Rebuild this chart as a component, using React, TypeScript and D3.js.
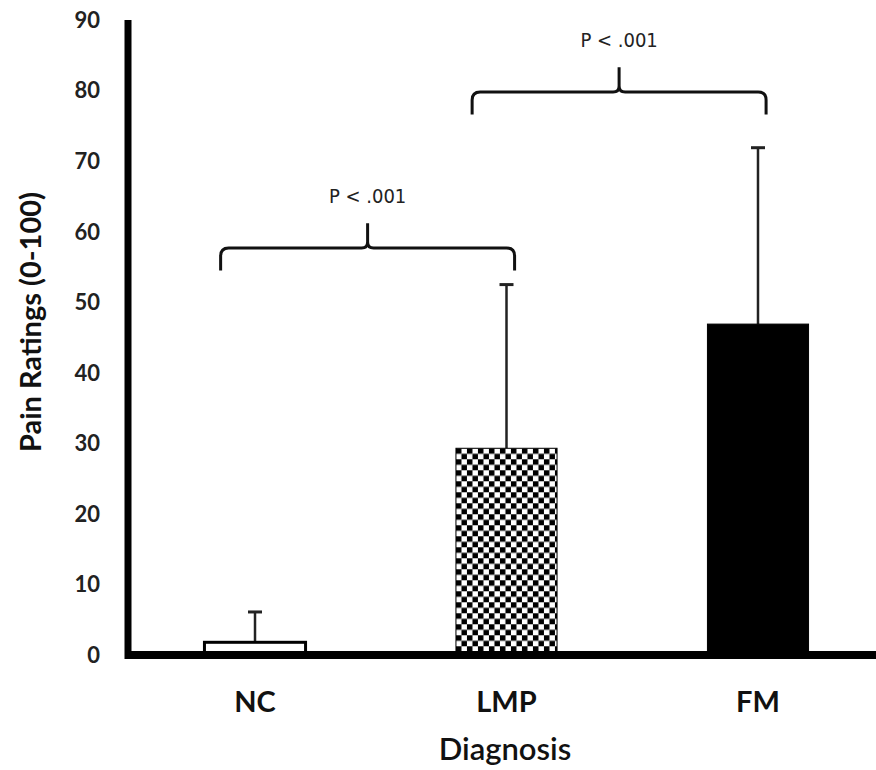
import React, { useEffect, useRef } from "react";
import * as d3 from "d3";

// data
const categories = ["NC", "LMP", "FM"];
const means = [1.8, 29.3, 46.9];
const upperErrors = [6.1, 52.5, 71.9];
const yTicks = [0, 10, 20, 30, 40, 50, 60, 70, 80, 90];
// significance brackets: [from category, to category, level, label]
const bracketFrom = ["NC", "LMP"];
const bracketTo = ["LMP", "FM"];
const bracketLevel = [57.7, 79.8];
const bracketLabel = ["P < .001", "P < .001"];

const App = () => {
  const ref = useRef<SVGSVGElement>(null);

  useEffect(() => {
    const width = 876;
    const height = 770;
    const svg = d3.select(ref.current);
    svg.selectAll("*").remove();

    const x = d3
      .scaleBand<string>()
      .domain(categories)
      .range([128, 885])
      .paddingInner(0.598)
      .paddingOuter(0.304);
    const y = d3.scaleLinear().domain([0, 90]).range([655, 20]);
    const bw = x.bandwidth();

    // checkerboard fill for LMP
    const defs = svg.append("defs");
    const cell = 5.5;
    const pat = defs
      .append("pattern")
      .attr("id", "checker")
      .attr("patternUnits", "userSpaceOnUse")
      .attr("x", x("LMP")!)
      .attr("y", y(means[1]))
      .attr("width", cell * 2)
      .attr("height", cell * 2);
    pat.append("rect").attr("width", cell * 2).attr("height", cell * 2).attr("fill", "#fff");
    pat.append("rect").attr("width", cell).attr("height", cell).attr("fill", "#000");
    pat
      .append("rect")
      .attr("x", cell)
      .attr("y", cell)
      .attr("width", cell)
      .attr("height", cell)
      .attr("fill", "#000");

    const fills = ["#fff", "url(#checker)", "#000"];

    // error bars (upper only)
    const g = svg.append("g");
    categories.forEach((c, i) => {
      const cx = x(c)! + bw / 2;
      g.append("line")
        .attr("x1", cx)
        .attr("x2", cx)
        .attr("y1", y(means[i]))
        .attr("y2", y(upperErrors[i]))
        .attr("stroke", "#222")
        .attr("stroke-width", 2.5);
      g.append("line")
        .attr("x1", cx - 7)
        .attr("x2", cx + 7)
        .attr("y1", y(upperErrors[i]))
        .attr("y2", y(upperErrors[i]))
        .attr("stroke", "#222")
        .attr("stroke-width", 3);
    });

    // bars
    svg
      .selectAll(".bar")
      .data(means)
      .enter()
      .append("rect")
      .attr("x", (d, i) => x(categories[i])!)
      .attr("y", (d) => y(d))
      .attr("width", bw)
      .attr("height", (d) => y(0) - y(d))
      .attr("fill", (d, i) => fills[i])
      .attr("stroke", "#000")
      .attr("stroke-width", (d, i) => (i === 0 ? 3 : 1));

    // axes
    svg
      .append("line")
      .attr("x1", 128)
      .attr("x2", 128)
      .attr("y1", y(90))
      .attr("y2", y(0) + 4)
      .attr("stroke", "#000")
      .attr("stroke-width", 7);
    svg
      .append("line")
      .attr("x1", 125)
      .attr("x2", width)
      .attr("y1", y(0))
      .attr("y2", y(0))
      .attr("stroke", "#000")
      .attr("stroke-width", 8);

    svg
      .append("g")
      .selectAll("text")
      .data(yTicks)
      .enter()
      .append("text")
      .attr("x", 100)
      .attr("y", (d) => y(d))
      .attr("dy", "0.36em")
      .attr("text-anchor", "end")
      .attr("font-family", "Lato")
      .attr("font-weight", 700)
      .attr("font-size", 22)
      .attr("fill", "#222")
      .text((d) => d);

    svg
      .append("g")
      .selectAll("text")
      .data(categories)
      .enter()
      .append("text")
      .attr("x", (d) => x(d)! + bw / 2)
      .attr("y", 712)
      .attr("text-anchor", "middle")
      .attr("font-family", "Lato")
      .attr("font-weight", 700)
      .attr("font-size", 29)
      .attr("fill", "#111")
      .text((d) => d);

    svg
      .append("text")
      .attr("x", 505)
      .attr("y", 760)
      .attr("text-anchor", "middle")
      .attr("font-family", "Lato")
      .attr("font-weight", 600)
      .attr("font-size", 31)
      .attr("fill", "#111")
      .text("Diagnosis");

    svg
      .append("text")
      .attr("transform", `translate(41, 322) rotate(-90)`)
      .attr("text-anchor", "middle")
      .attr("font-family", "Lato")
      .attr("font-weight", 700)
      .attr("font-size", 29)
      .attr("fill", "#111")
      .text("Pain Ratings (0-100)");

    // significance brackets
    bracketLevel.forEach((lv, i) => {
      const x0 = x(bracketFrom[i])! + bw * 0.16;
      const x1 = x(bracketTo[i])! + bw * 0.58;
      const xm = (x0 + x1) / 2;
      const ym = y(lv);
      const yEnd = y(lv - 3.2);
      const yPeak = y(lv + 3.5);
      const r = 8;
      const path = d3.path();
      path.moveTo(x0, yEnd);
      path.lineTo(x0, ym + r);
      path.quadraticCurveTo(x0, ym, x0 + r, ym);
      path.lineTo(xm - 6, ym);
      path.quadraticCurveTo(xm, ym, xm, ym - 6);
      path.lineTo(xm, yPeak);
      path.moveTo(xm, ym - 6);
      path.quadraticCurveTo(xm, ym, xm + 6, ym);
      path.lineTo(x1 - r, ym);
      path.quadraticCurveTo(x1, ym, x1, ym + r);
      path.lineTo(x1, yEnd);
      svg
        .append("path")
        .attr("d", path.toString())
        .attr("fill", "none")
        .attr("stroke", "#111")
        .attr("stroke-width", 3);
      svg
        .append("text")
        .attr("x", xm)
        .attr("y", y(lv + 6.4))
        .attr("text-anchor", "middle")
        .attr("font-family", "DejaVu Sans Condensed")
        .attr("font-size", 20)
        .attr("fill", "#222")
        .text(bracketLabel[i]);
    });
  }, []);

  return (
    <svg
      ref={ref}
      width={876}
      height={770}
      style={{ position: "absolute", left: 0, top: 0, background: "#fff" }}
    />
  );
};

export default App;
